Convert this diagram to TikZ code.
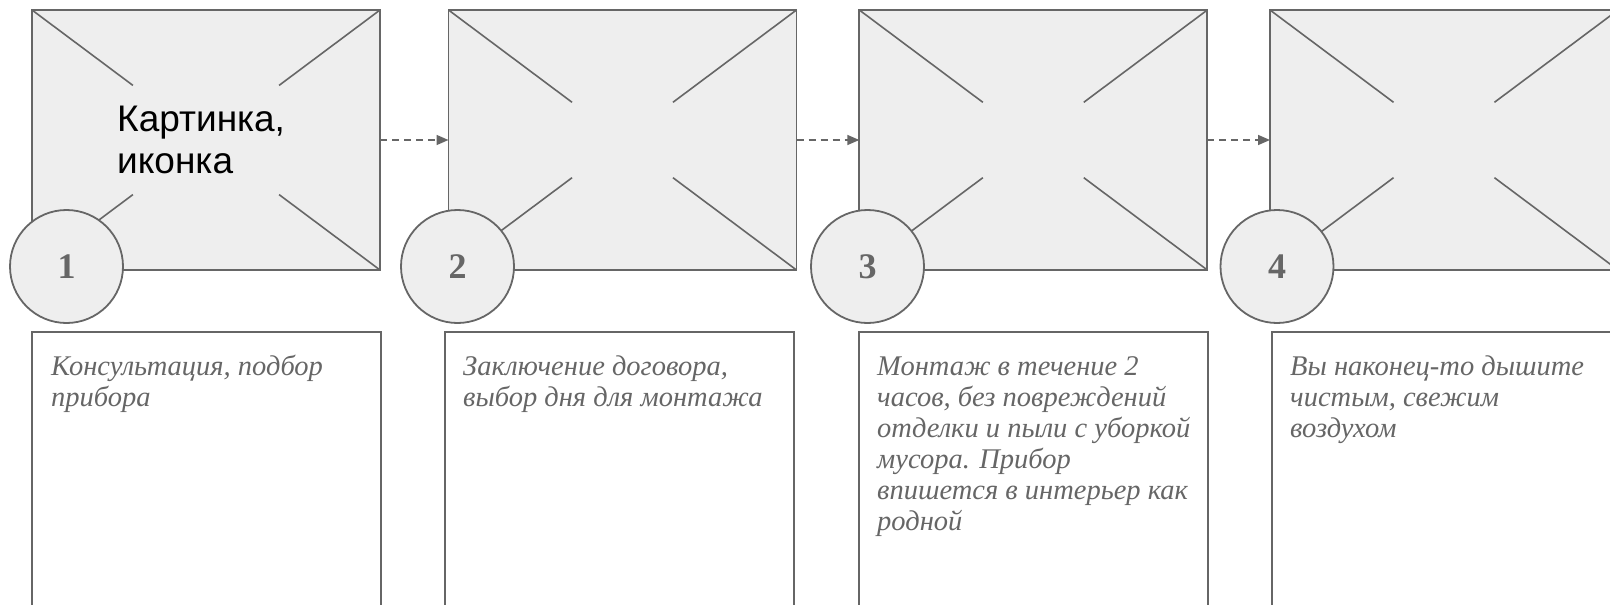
\documentclass[tikz,border=0pt]{standalone}
\usepackage{fontspec}
\setmainfont{Liberation Serif}
\newfontfamily\picsans{Liberation Sans}
\usetikzlibrary{arrows.meta,calc}
\definecolor{lg}{HTML}{666666}
\definecolor{fg}{HTML}{EEEEEE}
\begin{document}
\begin{tikzpicture}[x=1pt,y=-1pt,
 panel/.style={draw=lg,fill=fg,line width=1.8pt,minimum width=348pt,minimum height=260pt,inner sep=0pt,outer sep=0pt},
 cross/.style={draw=lg,line width=1.6pt},
 numc/.style={circle,draw=lg,fill=fg,line width=1.8pt,minimum size=113pt,inner sep=0pt,text=lg,font=\fontsize{36}{40}\selectfont\bfseries},
 textbox/.style={draw=lg,line width=1.8pt,minimum width=349pt,minimum height=400pt,inner sep=0pt,outer sep=0pt,anchor=north west},
 desc/.style={anchor=north west,inner sep=0pt,align=left,text=lg,font=\fontsize{28.5}{31}\selectfont\itshape},
 flow/.style={draw=lg,line width=1.6pt,dash pattern=on 7pt off 5pt,-{Triangle[length=12pt,width=10pt]}}]
\useasboundingbox (0,0) rectangle (1610,605);
\clip (0,0) rectangle (1610,605);
% panels
\node[panel] (p1) at (206,140) {};
\node[panel] (p2) at (622.5,140) {};
\node[panel] (p3) at (1033.3,140) {};
\node[panel] (p4) at (1444,140) {};
% crosses
\foreach \p/\f in {p1/0.58,p2/0.71,p3/0.71,p4/0.71}{
  \foreach \a in {north west,north east,south west,south east}{
    \draw[cross] (\p.\a) -- ($(\p.\a)!\f!(\p.center)$);
  }
}
% arrows
\draw[flow] (p1.east) -- (p2.west);
\draw[flow] (p2.east) -- (p3.west);
\draw[flow] (p3.east) -- (p4.west);
% label in first panel
\node[anchor=north west,inner sep=0pt,align=left,font=\picsans\fontsize{37}{42}\selectfont] (pic) at (117,102.3) {\strut Картинка,\\иконка};
% number circles
\node[numc] (c1) at (66.5,266.5) {1};
\node[numc] (c2) at (457.5,266.5) {2};
\node[numc] (c3) at (867.5,266.5) {3};
\node[numc] (c4) at (1277,266.5) {4};
% text boxes
\node[textbox] (b1) at (32,332) {};
\node[textbox] (b2) at (445,332) {};
\node[textbox] (b3) at (859,332) {};
\node[textbox] (b4) at (1272,332) {};
\node[desc] (t1) at (51,354) {\strut Консультация, подбор\\прибора};
\node[desc] (t2) at (463,354) {\strut Заключение договора,\\выбор дня для монтажа};
\node[desc] (t3) at (877,354) {\strut Монтаж в течение 2\\часов, без повреждений\\отделки и пыли с уборкой\\мусора. Прибор\\впишется в интерьер как\\родной};
\node[desc] (t4) at (1290,354) {\strut Вы наконец-то дышите\\чистым, свежим\\воздухом};
\end{tikzpicture}
\end{document}
